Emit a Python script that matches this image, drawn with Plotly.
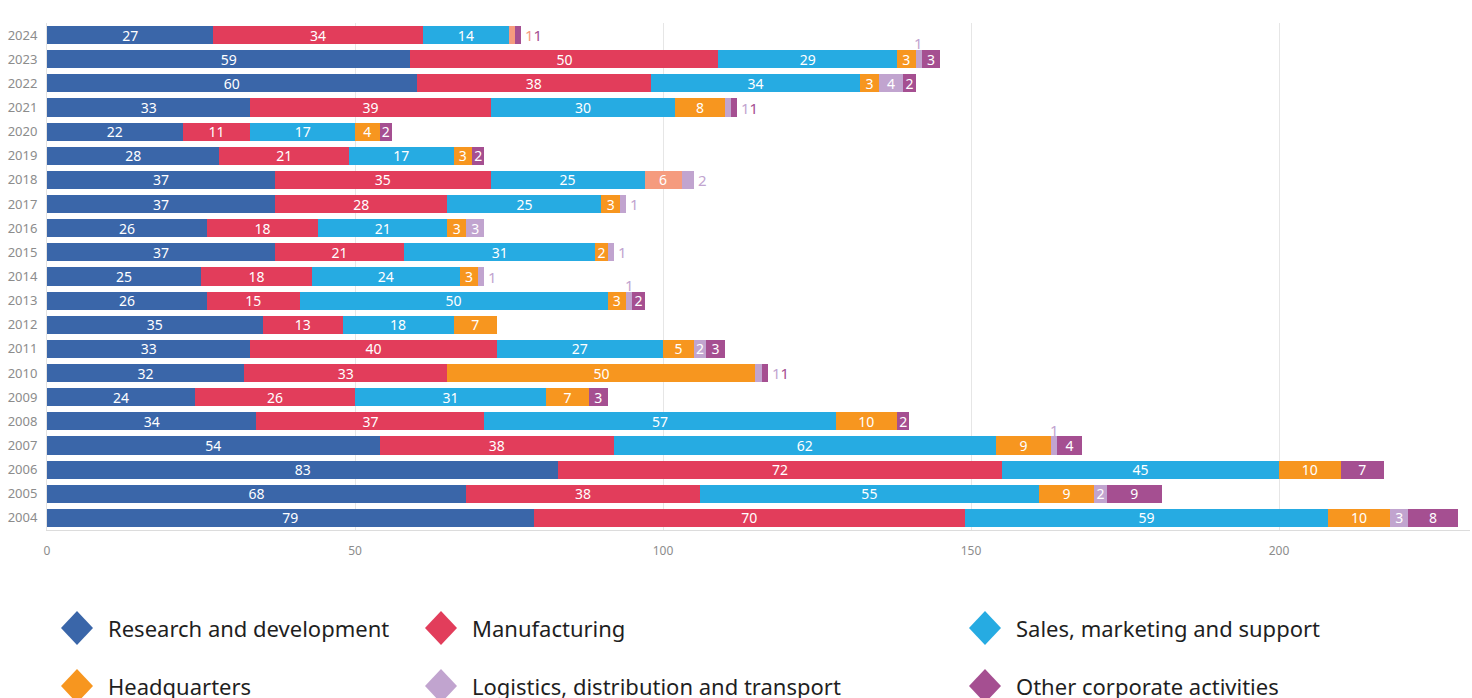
import plotly.graph_objects as go

# Years on the vertical axis (bottom to top)
years = [str(y) for y in range(2004, 2025)]

# Project counts by business activity, one value per year (2004 -> 2024)
research_dev = [79, 68, 83, 54, 34, 24, 32, 33, 35, 26, 25, 37, 26, 37, 37, 28, 22, 33, 60, 59, 27]
manufacturing = [70, 38, 72, 38, 37, 26, 33, 40, 13, 15, 18, 21, 18, 28, 35, 21, 11, 39, 38, 50, 34]
sales_support = [59, 55, 45, 62, 57, 31, 0, 27, 18, 50, 24, 31, 21, 25, 25, 17, 17, 30, 34, 29, 14]
headquarters = [10, 9, 10, 9, 10, 7, 50, 5, 7, 3, 3, 2, 3, 3, 0, 3, 4, 8, 3, 3, 0]
unlisted = [0, 0, 0, 0, 0, 0, 0, 0, 0, 0, 0, 0, 0, 0, 6, 0, 0, 0, 0, 0, 1]
logistics = [3, 2, 0, 1, 0, 0, 1, 2, 0, 1, 1, 1, 3, 1, 2, 0, 0, 1, 4, 1, 0]
other_corp = [8, 9, 7, 4, 2, 3, 1, 3, 0, 2, 0, 0, 0, 0, 0, 2, 2, 1, 2, 3, 1]

series = [
    ("Research and development", research_dev, "#3a66a9", True),
    ("Manufacturing", manufacturing, "#e23d5b", True),
    ("Sales, marketing and support", sales_support, "#26abe2", True),
    ("Headquarters", headquarters, "#f7961f", True),
    ("Unlisted activity", unlisted, "#f59b7e", False),
    ("Logistics, distribution and transport", logistics, "#c1a4cf", True),
    ("Other corporate activities", other_corp, "#a54f91", True),
]

FONT = "Noto Sans"
fig = go.Figure()

n = len(years)
# decide which segment labels sit outside the bar
outside = [[False] * n for _ in series]
for si, (name, vals, col, _) in enumerate(series):
    for i, v in enumerate(vals):
        if v == 1:
            outside[si][i] = True
        elif v == 2 and name.startswith("Logistics") and all(series[k][1][i] == 0 for k in range(si + 1, len(series))):
            outside[si][i] = True

for si, (name, vals, col, _) in enumerate(series):
    texts = ["" if (v == 0 or outside[si][i]) else str(v) for i, v in enumerate(vals)]
    fig.add_trace(go.Bar(
        y=years, x=vals, name=name, orientation="h",
        marker=dict(color=col, line=dict(width=0)),
        text=texts, textposition="inside", insidetextanchor="middle",
        textangle=0,
        textfont=dict(color="white", size=14, family=FONT),
        showlegend=False,
        hovertemplate="%{y}: %{x}<extra>" + name + "</extra>",
    ))

annotations = []
for i, yr in enumerate(years):
    segs = [(si, series[si][1][i]) for si in range(len(series)) if series[si][1][i] > 0]
    total = sum(v for _, v in segs)
    # trailing run of outside labels goes to the right of the bar
    trail = []
    k = len(segs) - 1
    while k >= 0 and outside[segs[k][0]][i]:
        trail.insert(0, segs[k])
        k -= 1
    if trail:
        txt = "".join(
            '<span style="color:%s">%d</span>' % (series[si][2], v) for si, v in trail)
        annotations.append(dict(x=total, y=i, xref="x", yref="y", text=txt,
                                showarrow=False, xanchor="left", xshift=2,
                                font=dict(size=15, family=FONT)))
    # other outside labels sit above their segment
    cum = 0
    for idx, (si, v) in enumerate(segs):
        if outside[si][i] and idx <= k:
            annotations.append(dict(x=cum + v / 2, y=i, xref="x", yref="y",
                                    text=str(v), showarrow=False, yshift=16,
                                    font=dict(size=15, family=FONT, color=series[si][2])))
        cum += v

# legend: diamonds and labels laid out in three columns
shapes = []
col_x = [77, 441, 985]
row_y = [628, 686]
legend_items = [s for s in series if s[3]]
W, H = 1472, 698
ml, mr, mt, mb = 47, 2, 23, 168
pw, ph = W - ml - mr, H - mt - mb
for j, (name, vals, col, _) in enumerate(legend_items):
    cx = col_x[j % 3]
    cy = row_y[j // 3]
    px = (cx - ml) / pw
    py = (H - mb - cy) / ph
    shapes.append(dict(type="path", xref="paper", yref="paper",
                       xsizemode="pixel", ysizemode="pixel",
                       xanchor=px, yanchor=py,
                       path="M 0 17 L 16 0 L 0 -17 L -16 0 Z",
                       fillcolor=col, line=dict(width=0), layer="above"))
    annotations.append(dict(x=(cx + 29 - ml) / pw, y=py, xref="paper", yref="paper",
                            text=name, showarrow=False, xanchor="left", yanchor="middle",
                            font=dict(size=22, family=FONT, color="#1f1f1f")))

fig.update_layout(
    barmode="stack", bargap=0.25,
    width=W, height=H,
    margin=dict(l=ml, r=mr, t=mt, b=mb),
    plot_bgcolor="white", paper_bgcolor="white",
    font=dict(family=FONT),
    uniformtext=dict(minsize=14, mode="show"),
    xaxis=dict(range=[0, 231], tickvals=[0, 50, 100, 150, 200],
               showgrid=True, gridcolor="#e6e6e6", gridwidth=1, zeroline=False,
               showline=True, linecolor="#dcdcdc", linewidth=1,
               ticklabelstandoff=10,
               tickfont=dict(size=12, color="#8c8c8c", family=FONT)),
    yaxis=dict(type="category", categoryorder="array", categoryarray=years,
               range=[-0.5, n - 0.5],
               showgrid=False, showline=True, linecolor="#e3e3e3",
               ticklabelstandoff=6,
               tickfont=dict(size=13, color="#8c8c8c", family=FONT)),
    annotations=annotations,
    shapes=shapes,
    showlegend=False,
)

fig.write_html("out.html")
